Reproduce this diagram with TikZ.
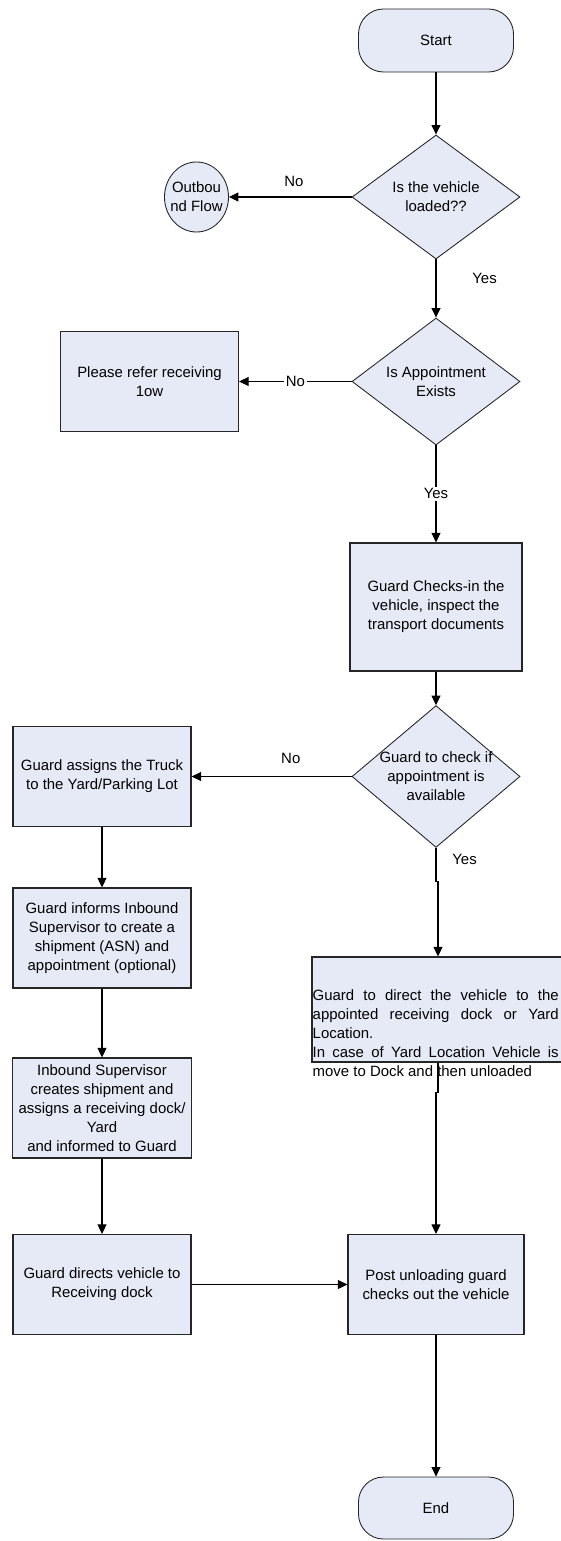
\documentclass[tikz,border=0pt]{standalone}
\usepackage{fontspec}
\setmainfont{Liberation Sans}
\usetikzlibrary{shapes.geometric,arrows.meta}
\definecolor{boxfill}{RGB}{229,234,246}
\hyphenpenalty=10000
\tolerance=9999
\begin{document}
\begin{tikzpicture}[x=0.2mm,y=-0.2mm,
                    font=\fontsize{8.5}{10.8}\selectfont,
                    terminal/.style={rectangle,rounded corners=5mm,draw=black!85,fill=boxfill,line width=0.5pt,minimum width=31mm,minimum height=12.6mm},
                    decision/.style={diamond,draw=black!85,fill=boxfill,line width=0.5pt,inner sep=-1mm,align=center,minimum width=33.6mm,minimum height=24.8mm},
                    process/.style={rectangle,draw=black!85,fill=boxfill,line width=0.7pt,align=center,minimum width=35.6mm,minimum height=20mm},
                    offpage/.style={ellipse,draw=black!85,fill=boxfill,line width=0.5pt,inner sep=-1mm,align=center,minimum width=12.8mm,minimum height=14mm},
                    flow/.style={-{Triangle[length=1.9mm,width=1.8mm]},line width=0.6pt},
                    onlabel/.style={fill=white,inner sep=1pt}
                   ]
  \useasboundingbox (0,0) rectangle (561,1541);

  \node[terminal] (start) at (436,40.5) {Start};
  \node[decision] (d1) at (436,197) {Is the vehicle\\loaded??};
  \node[offpage] (outb) at (196.5,197) {Outbou\\nd Flow};
  \node[decision,minimum height=25.4mm] (d2) at (436,381.5) {Is Appointment\\Exists};
  \node[process] (refer) at (149.5,381.5) {Please refer receiving\\1ow};
  \node[process,minimum width=34.4mm,minimum height=25.6mm] (checks) at (436,607) {Guard Checks-in the\\vehicle, inspect the\\transport documents};
  \node[decision,minimum height=24.6mm] (d3) at (436,776.5) {Guard to check if\\appointment is\\available};
  \node[process] (assign) at (102,776.5) {Guard assigns the Truck\\to the Yard/Parking Lot};
  \node[process] (inform) at (102,938) {Guard informs Inbound\\Supervisor to create a\\shipment (ASN) and\\appointment (optional)};
  \node[process] (inbound) at (102,1108) {Inbound Supervisor\\creates shipment and\\assigns a receiving dock/\\Yard\\and informed to Guard};
  \node[process] (directs) at (102,1284.5) {Guard directs vehicle to\\Receiving dock};
  \node[process,minimum width=50.4mm,minimum height=21mm] (gdirect) at (438,1009.5) {};
  \node[anchor=north west,inner sep=0pt,text width=49.2mm,align=justify] (gdirecttext) at ([shift={(1,33)}]gdirect.north west) {Guard to direct the vehicle to the appointed receiving dock or Yard Location.\\In case of Yard Location Vehicle is move to Dock and then unloaded};
  \node[process,minimum width=35.2mm] (post) at (436,1284.5) {Post unloading guard\\checks out the vehicle};
  \node[terminal,minimum height=12.4mm] (stop) at (436,1508) {End};

  \path[flow]
   (start) edge (d1)
   (d1) edge node[pos=0.47,above=0.7mm] (no1) {No} (outb)
   (d1) edge node[pos=0.32,right=6mm] (yes1) {Yes} (d2)
   (d2) edge node[onlabel] (no2) {No} (refer)
   (d2) edge node[onlabel] (yes2) {Yes} (checks)
   (checks) edge (d3)
   (d3) edge node[pos=0.38,above=1.2mm] (no3) {No} (assign)
   (assign) edge (inform)
   (inform) edge (inbound)
   (inbound) edge (directs)
   (directs) edge (post)
   (post) edge (stop);
  \draw[flow] (d3.south) -- ++(0,34) node[pos=0.35,right=2mm] (yes3) {Yes} -| (gdirect.north);
  \draw[flow] (gdirect.south) -- ++(0,30) -| (post.north);
\end{tikzpicture}
\end{document}
